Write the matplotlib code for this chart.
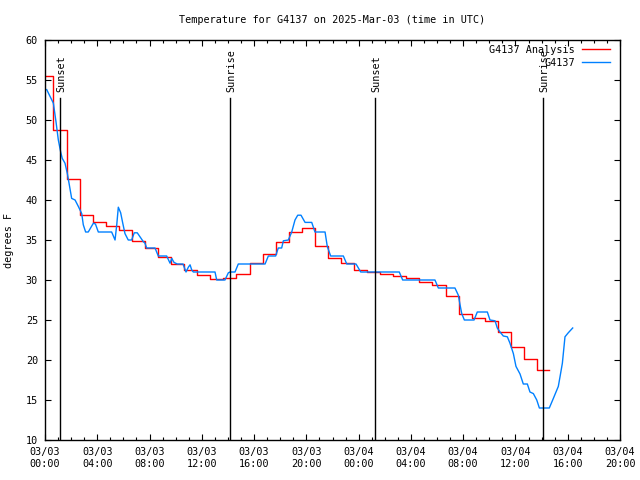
import matplotlib
matplotlib.use("Agg")
import matplotlib.pyplot as plt
from matplotlib.ticker import MultipleLocator, FixedLocator

plt.rcParams['font.family'] = ['DejaVu Sans Mono']
FS = 7.3

# hours since 03/03 00:00 UTC
analysis_hours = [0, 0.65, 1.65, 2.65, 3.65, 4.65, 5.65, 6.65, 7.65, 8.65, 9.65,
                  10.65, 11.65, 12.65, 13.65, 14.65, 15.65, 16.65, 17.65, 18.65,
                  19.65, 20.65, 21.65, 22.65, 23.65, 24.65, 25.65, 26.65, 27.65,
                  28.65, 29.65, 30.65, 31.65, 32.65, 33.65, 34.65, 35.65, 36.65,
                  37.65, 38.6]
analysis_temp = [55.5, 48.75, 42.6, 38.1, 37.2, 36.75, 36.3, 34.9, 34.0, 32.9, 32.0,
                 31.25, 30.6, 30.1, 30.2, 30.8, 32.1, 33.2, 34.7, 36.0,
                 36.5, 34.2, 32.7, 32.1, 31.3, 31.0, 30.8, 30.5, 30.2,
                 29.7, 29.4, 28.0, 25.8, 25.3, 24.9, 23.5, 21.6, 20.1,
                 18.75, 18.75]

obs_hours = [0.13, 0.64, 0.77, 0.84, 1.02, 1.20, 1.32, 1.53, 1.71, 1.86, 2.04, 2.30,
             2.55, 2.81, 2.93, 3.11, 3.31, 3.70, 3.86, 4.08, 5.10, 5.36, 5.49, 5.61,
             5.79, 5.95, 6.12, 6.37, 6.63, 6.83, 7.06, 7.27, 7.52, 7.65, 7.78, 8.42,
             8.67, 9.31, 9.57, 9.70, 9.87, 10.12, 10.56, 10.79, 10.97, 11.10, 11.23,
             11.35, 13.01, 13.14, 13.77, 14.03, 14.16, 14.54, 14.79, 16.84, 17.09,
             17.65, 17.85, 18.11, 18.24, 18.62, 18.88, 19.13, 19.34, 19.59, 19.90,
             20.41, 20.66, 21.43, 21.60, 21.86, 22.83, 23.09, 23.80, 24.16, 27.11,
             27.37, 29.84, 30.10, 31.37, 31.63, 31.76, 31.89, 32.09, 32.83, 33.08,
             33.85, 34.05, 34.44, 34.61, 34.82, 35.07, 35.38, 35.58, 35.84, 36.04,
             36.35, 36.60, 36.91, 37.11, 37.37, 37.63, 37.83, 38.59, 38.90, 39.28,
             39.41, 39.59, 39.79, 40.04, 40.38]
obs_temp = [53.8, 52.1, 50.6, 49.8, 47.5, 46.0, 45.2, 44.6, 43.3, 41.9, 40.2, 40.0,
            39.2, 38.3, 36.9, 36.0, 36.0, 37.1, 37.0, 36.0, 36.0, 35.0, 36.9, 39.1,
            38.4, 37.1, 35.8, 35.0, 35.0, 35.9, 35.9, 35.4, 34.8, 34.6, 34.0, 34.0,
            33.0, 33.0, 32.1, 32.7, 32.2, 32.0, 32.0, 31.0, 31.6, 31.9, 31.25,
            31.0, 31.0, 30.0, 30.0, 30.9, 31.0, 31.0, 32.0, 32.0, 33.0,
            33.0, 34.0, 34.0, 34.9, 35.0, 36.0, 37.5, 38.1, 38.1, 37.2,
            37.2, 36.0, 36.0, 34.2, 33.0, 33.0, 32.0, 32.0, 31.0, 31.0,
            30.0, 30.0, 29.0, 29.0, 28.1, 26.9, 25.8, 25.0, 25.0, 26.0,
            26.0, 25.0, 24.9, 24.0, 23.5, 23.0, 22.9, 22.1, 20.8, 19.2,
            18.25, 17.0, 17.0, 16.0, 15.8, 15.0, 14.0, 14.0, 15.2, 16.7,
            17.9, 19.6, 22.9, 23.4, 24.0]

sun_hours = [1.18, 14.18, 25.22, 38.12]
sun_labels = ["Sunset", "Sunrise", "Sunset", "Sunrise"]

tick_hours = [0, 4, 8, 12, 16, 20, 24, 28, 32, 36, 40, 44]
tick_labels = ["03/03\n00:00", "03/03\n04:00", "03/03\n08:00", "03/03\n12:00",
               "03/03\n16:00", "03/03\n20:00", "03/04\n00:00", "03/04\n04:00",
               "03/04\n08:00", "03/04\n12:00", "03/04\n16:00", "03/04\n20:00"]

fig = plt.figure(figsize=(6.4, 4.8), dpi=100)
ax = fig.add_axes([45/640, 40/480, 575/640, 400/480])

ax.plot(analysis_hours, analysis_temp, color='#ff0000', lw=1, drawstyle='steps-post')
ax.plot(obs_hours, obs_temp, color='#0080ff', lw=1)

for h, lab in zip(sun_hours, sun_labels):
    ax.plot([h, h], [10, 52.75], color='black', lw=1)
    ax.text(h + 0.1, 53.5, lab, rotation=90, ha='center', va='bottom', fontsize=FS)

ax.set_xlim(0, 44)
ax.set_ylim(10, 60)
ax.xaxis.set_major_locator(FixedLocator(tick_hours))
ax.set_xticklabels(tick_labels)
ax.xaxis.set_minor_locator(MultipleLocator(1))
ax.yaxis.set_major_locator(MultipleLocator(5))
ax.tick_params(which='both', direction='in', top=True, right=True, labelsize=FS, width=0.8)
ax.tick_params(which='major', length=4, pad=5)
ax.tick_params(which='minor', length=2)
for s in ax.spines.values():
    s.set_linewidth(1)

ax.set_ylabel("degrees F", fontsize=FS)
ax.yaxis.set_label_coords((14 - 45)/575, 0.5)
fig.text(332/640, 1 - 20/480, "Temperature for G4137 on 2025-Mar-03 (time in UTC)",
         ha='center', va='center', fontsize=FS)

# gnuplot-style key, right aligned text
ax.text((575 - 45)/575, 1 - 10/400, "G4137 Analysis", transform=ax.transAxes,
        ha='right', va='center', fontsize=FS)
ax.text((575 - 45)/575, 1 - 23/400, "G4137", transform=ax.transAxes,
        ha='right', va='center', fontsize=FS)
ax.plot([(582 - 45)/575, (610 - 45)/575], [1 - 9/400, 1 - 9/400], color='#ff0000', lw=1,
        transform=ax.transAxes)
ax.plot([(582 - 45)/575, (610 - 45)/575], [1 - 22/400, 1 - 22/400], color='#0080ff', lw=1,
        transform=ax.transAxes)

fig.savefig("out.png", dpi=100)
